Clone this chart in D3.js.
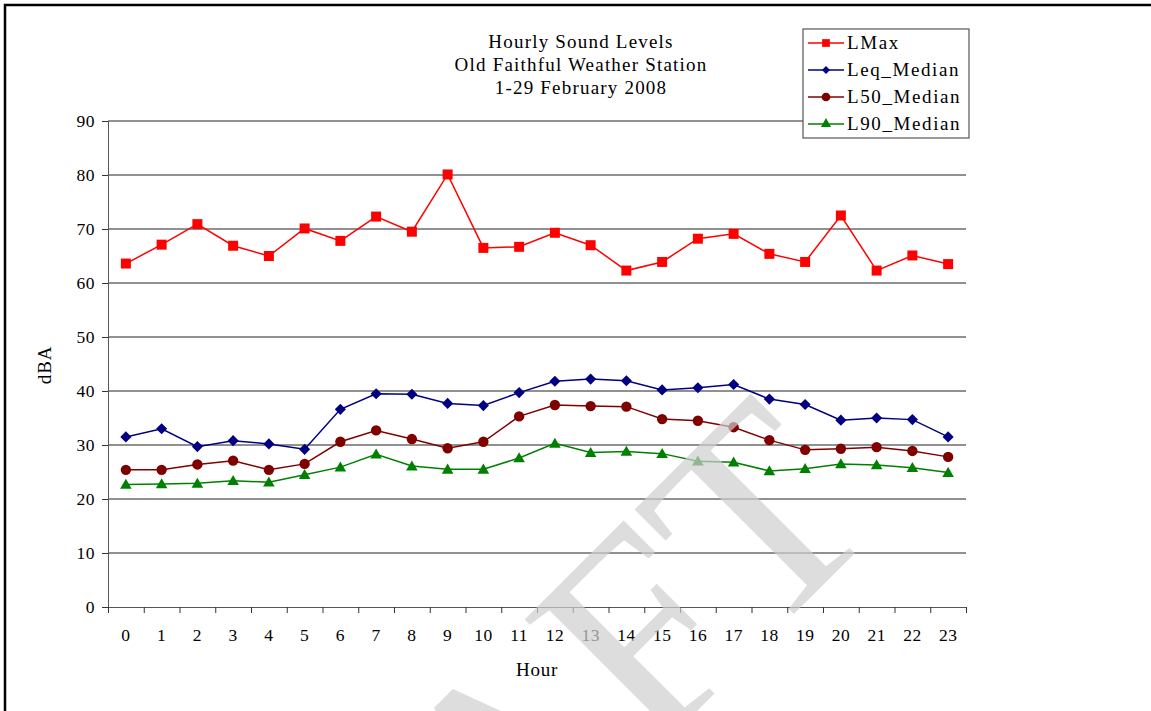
<!DOCTYPE html>
<html>
<head>
<meta charset="utf-8">
<script src="https://cdn.jsdelivr.net/npm/d3@7"></script>
<style>
  html, body { margin: 0; padding: 0; background: #fff; }
  svg { display: block; }
  text { font-family: "Liberation Serif", "Times New Roman", serif; fill: #000; }
</style>
</head>
<body>
<svg id="chart" width="1151" height="711"></svg>
<script>
const hours = d3.range(24).map(String);
const lmax = [63.6, 67.1, 70.9, 66.9, 65.0, 70.1, 67.8, 72.3, 69.5, 80.1, 66.5, 66.7,
              69.3, 67.0, 62.3, 63.9, 68.2, 69.1, 65.4, 63.9, 72.5, 62.3, 65.1, 63.5];
const leq  = [31.5, 33.0, 29.7, 30.8, 30.2, 29.2, 36.6, 39.5, 39.4, 37.7, 37.3, 39.7,
              41.8, 42.2, 41.9, 40.2, 40.6, 41.2, 38.5, 37.5, 34.6, 35.0, 34.7, 31.5];
const l50  = [25.4, 25.4, 26.4, 27.1, 25.4, 26.5, 30.6, 32.7, 31.1, 29.4, 30.6, 35.3,
              37.4, 37.2, 37.1, 34.8, 34.5, 33.3, 30.9, 29.1, 29.3, 29.6, 28.9, 27.8];
const l90  = [22.7, 22.8, 22.9, 23.4, 23.1, 24.5, 25.9, 28.3, 26.1, 25.5, 25.5, 27.6,
              30.3, 28.6, 28.8, 28.4, 27.0, 26.8, 25.2, 25.6, 26.5, 26.3, 25.8, 24.9];
const seriesNames = ["LMax", "Leq_Median", "L50_Median", "L90_Median"];
const seriesColors = ["#ff0000", "#000080", "#800000", "#008000"];
const seriesShapes = [d3.symbolSquare, d3.symbolSquare, d3.symbolCircle, d3.symbolTriangle];
const shapeRotation = [0, 45, 0, 0];
const yTicks = [0, 10, 20, 30, 40, 50, 60, 70, 80, 90];
const titleLines = ["Hourly Sound Levels", "Old Faithful Weather Station", "1-29 February 2008"];
const watermark = "DRAFT";

const svg = d3.select("#chart");
const L = 108, R = 966, T = 121, B = 607;

// outer frame (top + left visible)
svg.append("path").attr("d", `M5,711 L5,5 L1151,5`).attr("fill", "none")
  .attr("stroke", "#000").attr("stroke-width", 2.5);

const x = d3.scaleBand().domain(hours).range([L, R]).padding(0);
const xb = d3.scaleLinear().domain([0, 24]).range([L, R]);
const y = d3.scaleLinear().domain([0, 90]).range([B, T]);

// gridlines
svg.append("g").selectAll("line").data(yTicks.filter(d => d > 0)).join("line")
  .attr("x1", L).attr("x2", R).attr("y1", d => y(d)).attr("y2", d => y(d))
  .attr("stroke", "#222").attr("stroke-width", 1);

// y axis
const yAxis = svg.append("g").attr("transform", `translate(${L},0)`)
  .call(d3.axisLeft(y).tickValues(yTicks).tickSize(6).tickPadding(7));
yAxis.select(".domain").attr("stroke", "#555");
yAxis.selectAll(".tick line").attr("stroke", "#333");
yAxis.selectAll("text").attr("font-size", 17.5).attr("font-family", "Liberation Serif")
  .attr("letter-spacing", 0.5).attr("fill", "#000");

// x axis: boundary ticks
const xTickG = svg.append("g").attr("transform", `translate(0,${B})`)
  .call(d3.axisBottom(xb).tickValues(d3.range(25)).tickSize(6).tickFormat(""));
xTickG.select(".domain").attr("stroke", "#555");
xTickG.selectAll(".tick line").attr("stroke", "#333");
// x axis labels
const xLab = svg.append("g").attr("transform", `translate(0,${B})`)
  .call(d3.axisBottom(x).tickSize(0).tickPadding(22));
xLab.select(".domain").remove();
xLab.selectAll("text").attr("font-size", 17.5).attr("font-family", "Liberation Serif")
  .attr("letter-spacing", 0.5).attr("fill", "#000");

// axis titles
svg.append("text").attr("x", 537).attr("y", 676).attr("text-anchor", "middle")
  .attr("font-size", 19).attr("letter-spacing", 0.8).text("Hour");
svg.append("text").attr("transform", "translate(51,365) rotate(-90)").attr("text-anchor", "middle")
  .attr("font-size", 19).attr("letter-spacing", 0.8).text("dBA");

// title
svg.append("g").selectAll("text").data(titleLines).join("text")
  .attr("x", 581).attr("y", (d, i) => 48 + i * 23).attr("text-anchor", "middle")
  .attr("font-size", 19).attr("letter-spacing", 1.2).text(d => d);

// series
const allSeries = [lmax, leq, l50, l90];
const line = d3.line().x((d, i) => x(hours[i]) + x.bandwidth() / 2).y(d => y(d));
const symSizes = [100, 62, 85, 58];
allSeries.forEach((vals, si) => {
  const g = svg.append("g");
  g.append("path").datum(vals).attr("d", line).attr("fill", "none")
    .attr("stroke", seriesColors[si]).attr("stroke-width", 1.5);
  g.selectAll("path.m").data(vals).join("path").attr("class", "m")
    .attr("transform", (d, i) => `translate(${x(hours[i]) + x.bandwidth() / 2},${y(d) + (si === 3 ? 1 : 0)}) rotate(${shapeRotation[si]})`)
    .attr("d", d3.symbol().type(seriesShapes[si]).size(symSizes[si]))
    .attr("fill", seriesColors[si]);
});

// legend
const lg = svg.append("g");
lg.append("rect").attr("x", 803).attr("y", 29).attr("width", 166).attr("height", 109)
  .attr("fill", "#fff").attr("stroke", "#555").attr("stroke-width", 1.2);
seriesNames.forEach((name, i) => {
  const cy = 43 + i * 27;
  lg.append("line").attr("x1", 808).attr("x2", 844).attr("y1", cy).attr("y2", cy)
    .attr("stroke", seriesColors[i]).attr("stroke-width", 1.5);
  lg.append("path").attr("transform", `translate(826,${cy}) rotate(${shapeRotation[i]})`)
    .attr("d", d3.symbol().type(seriesShapes[i]).size([60, 32, 60, 45][i]))
    .attr("fill", seriesColors[i]);
  lg.append("text").attr("x", 847).attr("y", cy + 6).attr("font-size", 19)
    .attr("letter-spacing", 1.6).text(name);
});

// watermark
svg.append("text").attr("transform", "translate(886,522) rotate(-45)")
  .attr("text-anchor", "end").attr("font-size", 285).attr("font-family", "Liberation Serif")
  .style("fill", "#cfcfcf").attr("opacity", 0.7).text(watermark);
</script>
</body>
</html>
